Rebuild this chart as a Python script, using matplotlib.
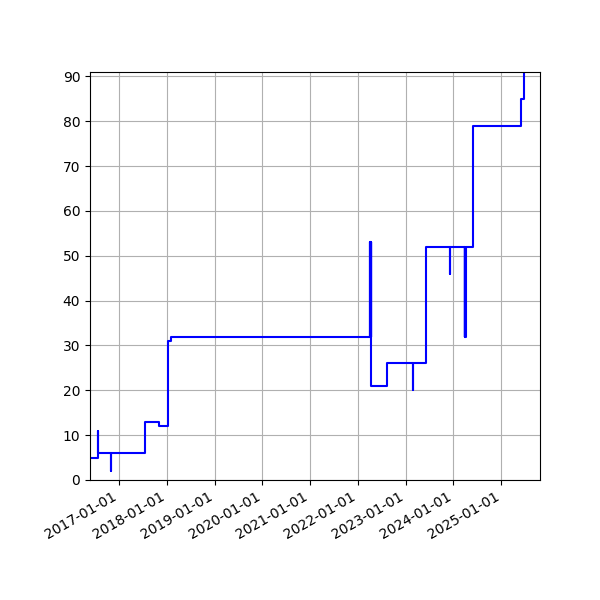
import matplotlib
matplotlib.use("Agg")
import matplotlib.pyplot as plt
import matplotlib.dates as mdates
import matplotlib.ticker as mticker
import numpy as np

# dates where the value changes, and the value held from that date on
dates = ["2016-05-22", "2016-07-24", "2016-07-25", "2016-10-30", "2016-10-31",
         "2017-07-19", "2017-10-31", "2018-01-06", "2018-01-29",
         "2022-04-04", "2022-04-05", "2022-04-06", "2022-04-07", "2022-04-08",
         "2022-04-09", "2022-04-10",
         "2022-04-11", "2022-08-10", "2023-02-27", "2023-02-28",
         "2023-06-03", "2023-12-08", "2023-12-09",
         "2024-03-27", "2024-03-28", "2024-03-29", "2024-03-30", "2024-03-31",
         "2024-04-01", "2024-04-02", "2024-04-03",
         "2024-06-01", "2025-05-30", "2025-06-24"]
values = [5, 11, 6, 2, 6,
          13, 12, 31, 32,
          53, 32, 53, 32, 53,
          32, 53,
          21, 26, 20, 26,
          52, 46, 52,
          32, 52, 32, 52, 32,
          52, 32, 52,
          79, 85, 91]

x = np.array(dates, dtype="datetime64[D]")

fig = plt.figure(figsize=(6, 6), dpi=100)
ax = fig.add_subplot(1, 1, 1)
ax.plot(x, values, color="blue", drawstyle="steps-post", linewidth=1.5)
ax.grid(True)
ax.set_ylim(0, 91)
ax.yaxis.set_major_locator(mticker.MultipleLocator(10))
ax.set_xlim(np.datetime64("2016-05-22"), np.datetime64("2025-10-24"))
ax.xaxis.set_major_locator(mdates.YearLocator())
ax.xaxis.set_major_formatter(mdates.DateFormatter("%Y-%m-%d"))
fig.autofmt_xdate()
fig.subplots_adjust(left=0.15, right=0.9, top=0.88, bottom=0.2)
plt.savefig("out.png")
